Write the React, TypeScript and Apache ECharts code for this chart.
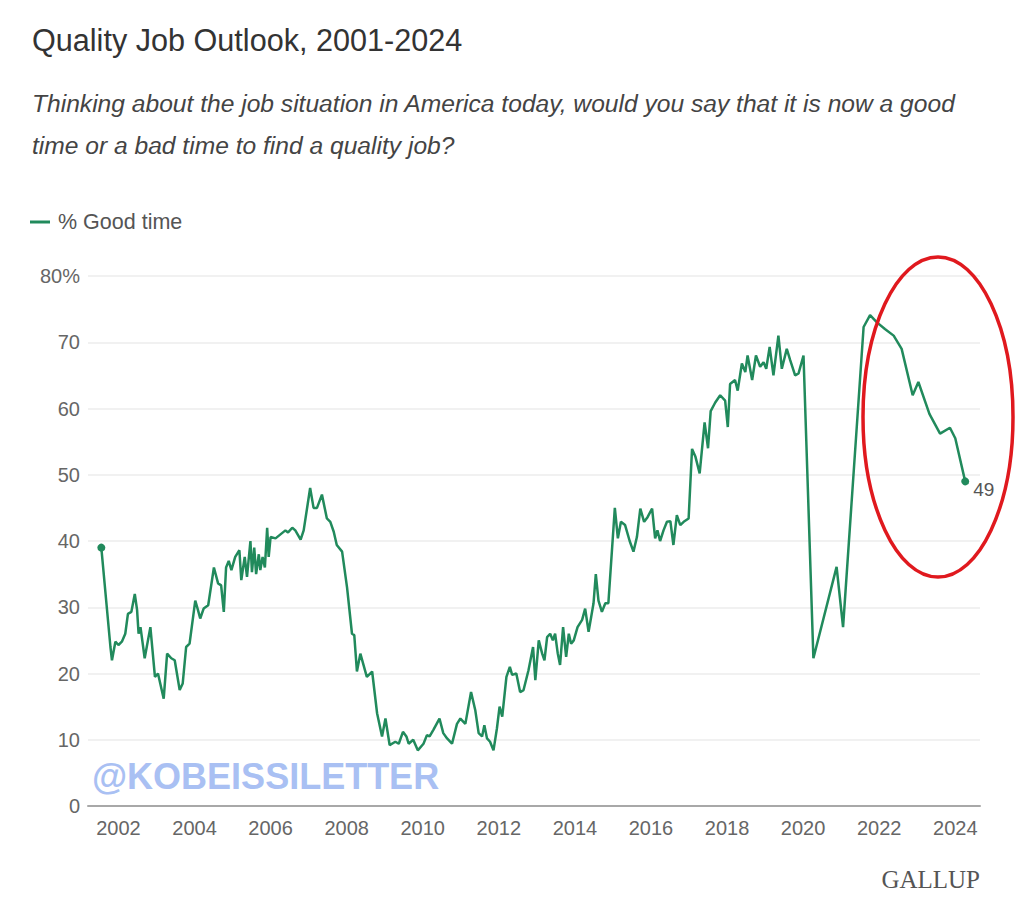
import React, { useEffect, useRef } from "react";
import * as echarts from "echarts";

// Survey dates (fractional years) and % saying it is a good time to find a quality job
const years = [
  2001.55, 2001.79, 2001.83, 2001.92, 2002.0, 2002.09, 2002.18, 2002.25, 2002.34, 2002.43,
  2002.49, 2002.53, 2002.58, 2002.69, 2002.84, 2002.96, 2003.04, 2003.19, 2003.28, 2003.39,
  2003.48, 2003.61, 2003.69, 2003.78, 2003.87, 2004.02, 2004.09, 2004.15, 2004.24, 2004.36,
  2004.51, 2004.62, 2004.7, 2004.77, 2004.83, 2004.9, 2004.97, 2005.07, 2005.18, 2005.23,
  2005.32, 2005.38, 2005.47, 2005.51, 2005.57, 2005.62, 2005.69, 2005.73, 2005.79, 2005.85,
  2005.91, 2005.95, 2006.0, 2006.13, 2006.26, 2006.39, 2006.46, 2006.57, 2006.65, 2006.79,
  2006.87, 2007.04, 2007.13, 2007.22, 2007.35, 2007.48, 2007.57, 2007.66, 2007.74, 2007.88,
  2008.01, 2008.14, 2008.2, 2008.27, 2008.36, 2008.53, 2008.67, 2008.8, 2008.93, 2009.02,
  2009.13, 2009.28, 2009.37, 2009.48, 2009.57, 2009.63, 2009.75, 2009.87, 2010.02, 2010.11,
  2010.18, 2010.28, 2010.44, 2010.54, 2010.64, 2010.77, 2010.9, 2010.99, 2011.12, 2011.27,
  2011.38, 2011.47, 2011.56, 2011.62, 2011.69, 2011.77, 2011.86, 2011.95, 2012.02, 2012.09,
  2012.2, 2012.29, 2012.35, 2012.46, 2012.56, 2012.65, 2012.78, 2012.9, 2012.96, 2013.05,
  2013.14, 2013.2, 2013.27, 2013.35, 2013.42, 2013.48, 2013.55, 2013.61, 2013.69, 2013.77,
  2013.84, 2013.9, 2013.97, 2014.07, 2014.19, 2014.27, 2014.36, 2014.43, 2014.49, 2014.55,
  2014.62, 2014.71, 2014.8, 2014.88, 2015.05, 2015.13, 2015.21, 2015.32, 2015.44, 2015.54,
  2015.63, 2015.72, 2015.82, 2015.91, 2016.03, 2016.11, 2016.17, 2016.24, 2016.33, 2016.42,
  2016.51, 2016.59, 2016.68, 2016.77, 2016.86, 2016.99, 2017.08, 2017.17, 2017.28, 2017.41,
  2017.5, 2017.57, 2017.69, 2017.82, 2017.95, 2018.02, 2018.08, 2018.21, 2018.28, 2018.39,
  2018.48, 2018.54, 2018.66, 2018.76, 2018.87, 2018.96, 2019.03, 2019.12, 2019.22, 2019.35,
  2019.44, 2019.57, 2019.66, 2019.79, 2019.88, 2020.01, 2020.27, 2020.88, 2021.05, 2021.59,
  2021.76, 2021.94, 2022.15, 2022.38, 2022.59, 2022.88, 2023.03, 2023.32, 2023.6, 2023.86,
  2024.0, 2024.26,
];

const goodTime = [
  39, 24, 22, 24.8, 24.3, 24.8, 26, 29, 29.3, 32,
  29.6, 26, 27, 22.3, 27, 19.5, 20, 16.2, 23, 22.3,
  22, 17.5, 18.5, 24, 24.5, 31, 29.6, 28.3, 29.8, 30.3,
  36, 33.6, 33.3, 29.3, 36, 37, 35.6, 37.6, 38.6, 34.1,
  37.6, 34.6, 40, 35.3, 39, 35, 38, 35.6, 37.6, 36,
  42, 37.6, 40.6, 40.4, 41, 41.6, 41.3, 42, 41.6, 40.2,
  41.6, 48, 45, 45, 47, 43.4, 42.9, 41.4, 39.4, 38.4,
  33, 26, 25.8, 20.3, 23, 19.5, 20.3, 14, 10.5, 13.2,
  9.2, 9.7, 9.4, 11.2, 10.5, 9.4, 10, 8.4, 9.4, 10.7,
  10.5, 11.5, 13.2, 11, 10.2, 9.4, 12.4, 13.2, 12.4, 17.2,
  14.5, 11, 10.5, 12.2, 10.2, 9.7, 8.4, 11.7, 15, 13.5,
  19.5, 21, 19.8, 20, 17.2, 17.5, 20.5, 24, 19, 25,
  23, 22, 25.5, 26, 25, 26, 23, 21.3, 27, 22.5,
  26, 24.5, 25, 27, 28.1, 29.8, 26.3, 28.6, 30.6, 35,
  31, 29.3, 30.6, 30.6, 45, 40.4, 42.9, 42.4, 40, 38.4,
  40.6, 44.9, 42.9, 43.6, 44.9, 40.4, 41.6, 40, 41.6, 42.9,
  43, 39.4, 43.9, 42.4, 42.9, 43.4, 53.9, 52.7, 50.2, 57.9,
  54, 59.6, 60.9, 62, 61.2, 57.2, 63.7, 64.3, 62.7, 66.8,
  65.5, 68, 64.3, 68, 66.3, 67, 66, 69.3, 65, 71,
  66, 69, 67.3, 65, 65.3, 68, 22.3, 36.1, 27, 72.3,
  74.1, 73, 72, 71, 69, 62, 64, 59.2, 56.2, 57.1,
  55.5, 49,
];

const xTickYears = [2002, 2004, 2006, 2008, 2010, 2012, 2014, 2016, 2018, 2020, 2022, 2024];
const seriesName = "% Good time";

const titleText = "Quality Job Outlook, 2001-2024";
const subtitleLines = [
  "Thinking about the job situation in America today, would you say that it is now a good",
  "time or a bad time to find a quality job?",
];

const GREEN = "#218a5c";
const FONT = "'Liberation Sans', Arial, Helvetica, sans-serif";

export default function App() {
  const ref = useRef<HTMLDivElement>(null);

  useEffect(() => {
    if (!ref.current) return;
    const chart = echarts.init(ref.current, null, { renderer: "svg" });
    const data = years.map((y, i) => [y, goodTime[i]]);
    const lastIdx = data.length - 1;

    chart.setOption({
      animation: false,
      backgroundColor: "#ffffff",
      textStyle: { fontFamily: FONT },
      grid: { left: 88, right: 44, top: 276, bottom: 102 },
      legend: {
        show: true,
        left: 30,
        top: 211,
        padding: 0,
        icon: "rect",
        itemWidth: 20,
        itemHeight: 3,
        textStyle: { fontSize: 21.5, color: "#555", fontFamily: FONT, padding: [0, 0, 0, 3] },
        data: [seriesName],
      },
      xAxis: {
        type: "value",
        min: 2001.2,
        max: 2024.65,
        axisLine: { show: true, lineStyle: { color: "#a8a8a8", width: 2 } },
        axisTick: { show: false },
        splitLine: { show: false },
        axisLabel: {
          customValues: xTickYears,
          color: "#666",
          fontSize: 20,
          margin: 12,
          fontFamily: FONT,
          formatter: (v: number) => String(Math.round(v)),
        },
      },
      yAxis: {
        type: "value",
        min: 0,
        max: 80,
        interval: 10,
        axisLine: { show: false },
        axisTick: { show: false },
        splitLine: { show: true, lineStyle: { color: "#ececec", width: 1.5 } },
        axisLabel: {
          color: "#666",
          fontSize: 20,
          margin: 8,
          fontFamily: FONT,
          formatter: (v: number) => (v === 80 ? "80%" : String(v)),
        },
      },
      series: [
        {
          name: seriesName,
          type: "line",
          data,
          showSymbol: true,
          showAllSymbols: true,
          symbol: "circle",
          symbolSize: (_v: any, p: any) => (p.dataIndex === 0 || p.dataIndex === lastIdx ? 8 : 0),
          lineStyle: { color: GREEN, width: 2.5 },
          itemStyle: { color: GREEN },
          label: {
            show: true,
            position: "right",
            distance: 4,
            offset: [0, 8],
            color: "#555",
            fontSize: 19,
            fontFamily: FONT,
            formatter: (p: any) => (p.dataIndex === lastIdx ? String(p.value[1]) : ""),
          },
          emphasis: { disabled: true },
        },
      ],
      graphic: [
        {
          type: "text",
          x: 32,
          y: 40,
          style: {
            text: titleText,
            fontSize: 30.6,
            fontFamily: FONT,
            fill: "#333",
            align: "left",
            verticalAlign: "middle",
          },
        },
        {
          type: "text",
          x: 32,
          y: 103,
          style: {
            text: subtitleLines[0],
            fontSize: 24.6,
            fontStyle: "italic",
            fontFamily: FONT,
            fill: "#444",
            align: "left",
            verticalAlign: "middle",
          },
        },
        {
          type: "text",
          x: 32,
          y: 145,
          style: {
            text: subtitleLines[1],
            fontSize: 24.6,
            fontStyle: "italic",
            fontFamily: FONT,
            fill: "#444",
            align: "left",
            verticalAlign: "middle",
          },
        },
        {
          type: "text",
          x: 92,
          y: 776,
          style: {
            text: "@KOBEISSILETTER",
            fontSize: 36,
            fontWeight: "bold",
            fontFamily: FONT,
            fill: "#a9c0f3",
            align: "left",
            verticalAlign: "middle",
          },
        },
        {
          type: "text",
          x: 980,
          y: 879,
          style: {
            text: "GALLUP",
            fontSize: 25,
            fontFamily: "'Liberation Serif', 'Times New Roman', serif",
            fill: "#555",
            align: "right",
            verticalAlign: "middle",
          },
        },
        {
          type: "ellipse",
          shape: { cx: 938, cy: 417, rx: 75, ry: 160 },
          style: { fill: "none", stroke: "#e0191e", lineWidth: 3.5 },
          z: 100,
        },
      ],
    });

    return () => chart.dispose();
  }, []);

  return (
    <div
      ref={ref}
      style={{ position: "absolute", left: 0, top: 0, width: 1024, height: 908, background: "#fff" }}
    />
  );
}
